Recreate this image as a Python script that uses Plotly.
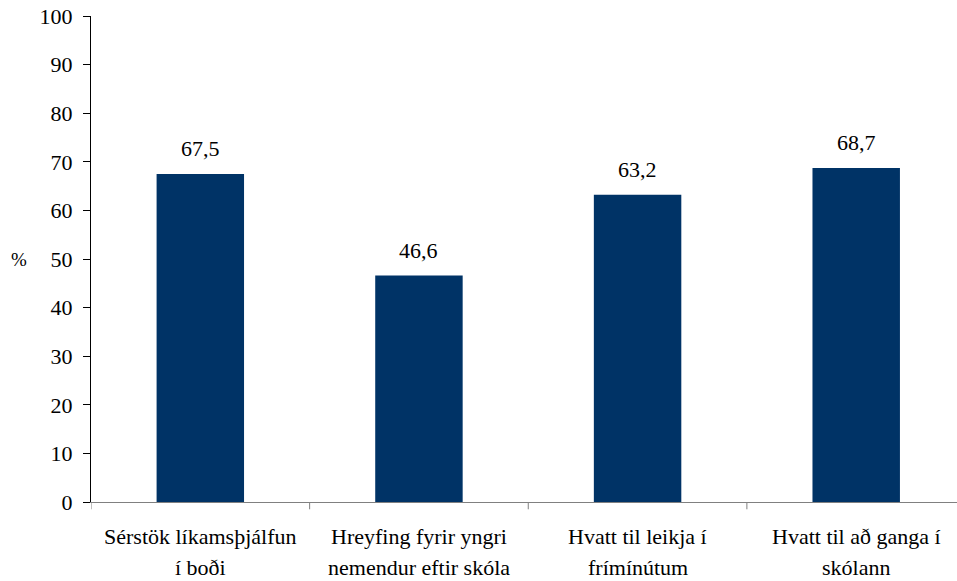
import plotly.graph_objects as go

categories = [
    "Sérstök líkamsþjálfun<br>í boði",
    "Hreyfing fyrir yngri<br>nemendur eftir skóla",
    "Hvatt til leikja í<br>frímínútum",
    "Hvatt til að ganga í<br>skólann",
]
values = [67.5, 46.6, 63.2, 68.7]
y_ticks = list(range(0, 101, 10))

FONT = "Liberation Serif"
FS = 22

fig = go.Figure()
fig.add_trace(go.Bar(
    x=list(range(len(categories))),
    y=values,
    width=0.4,
    marker=dict(color="#003366", line=dict(width=0)),
    hoverinfo="skip",
))

for i, v in enumerate(values):
    fig.add_annotation(
        x=i, y=v, text=f"{v:.1f}".replace(".", ","),
        showarrow=False, yanchor="bottom", yshift=11,
        font=dict(family=FONT, size=FS, color="black"),
    )

# category labels (two lines each, with the reference's wider line spacing)
for i, cat in enumerate(categories):
    for j, line in enumerate(cat.split("<br>")):
        fig.add_annotation(
            x=i, xref="x", y=0, yref="paper", text=line,
            showarrow=False, xanchor="center", yanchor="middle",
            yshift=-34 - 31 * j,
            font=dict(family=FONT, size=FS, color="black"),
        )

fig.add_annotation(
    xref="paper", yref="paper", x=-0.083, y=0.5, text="%",
    showarrow=False, xanchor="center", yanchor="middle",
    font=dict(family=FONT, size=19, color="black"),
)

fig.update_layout(
    width=957, height=581,
    margin=dict(l=91, r=0, t=16, b=79, autoexpand=False),
    paper_bgcolor="white", plot_bgcolor="white",
    showlegend=False,
    xaxis=dict(
        automargin=False,
        range=[-0.5, 3.461],
        tickmode="array",
        tickvals=list(range(len(categories))),
        showticklabels=False,
        showgrid=False, zeroline=False,
        showline=True, linecolor="#808080", linewidth=1,
        ticks="",
    ),
    yaxis=dict(
        automargin=False,
        range=[0, 100],
        tickmode="array", tickvals=y_ticks,
        ticktext=[str(t) for t in y_ticks],
        showgrid=False, zeroline=False,
        showline=True, linecolor="black", linewidth=1,
        ticks="outside", ticklen=7, tickcolor="black", tickwidth=1,
        tickfont=dict(family=FONT, size=FS, color="black"),
        ticklabeloverflow="allow",
        ticklabelstandoff=6,
    ),
)

for b in [-0.5, 0.5, 1.5, 2.5]:
    fig.add_shape(
        type="line", xref="x", yref="paper",
        x0=b, x1=b, y0=0, y1=-0.015,
        line=dict(color="#808080", width=1),
    )

fig.write_html("out.html", config={"displayModeBar": False},
               post_script="document.body.style.margin='0';")
